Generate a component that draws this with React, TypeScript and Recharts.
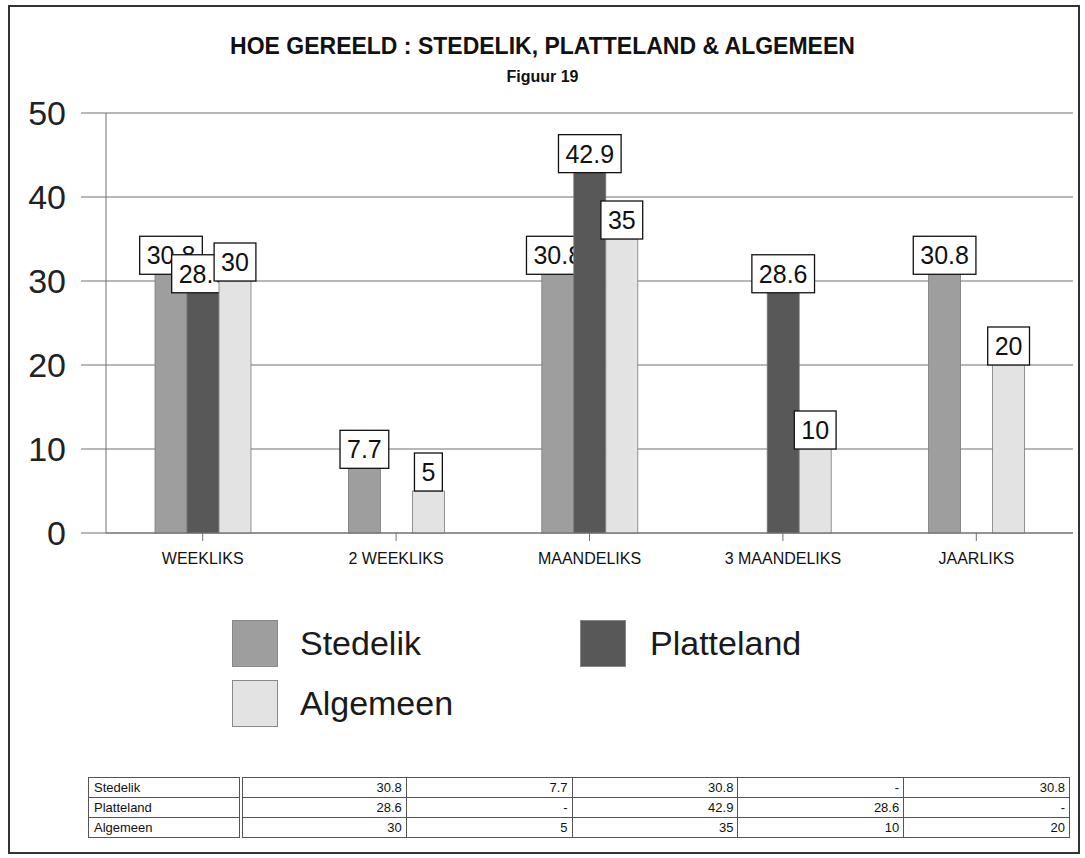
import React from "react";
import { BarChart, Bar, XAxis, YAxis, CartesianGrid, Legend } from "recharts";

const categories = ["WEEKLIKS", "2 WEEKLIKS", "MAANDELIKS", "3 MAANDELIKS", "JAARLIKS"];
const stedelik = [30.8, 7.7, 30.8, null, 30.8];
const platteland = [28.6, null, 42.9, 28.6, null];
const algemeen = [30, 5, 35, 10, 20];
const yTicks = [0, 10, 20, 30, 40, 50];

const series = [
  { key: "stedelik", name: "Stedelik", values: stedelik, fill: "#9e9e9e" },
  { key: "platteland", name: "Platteland", values: platteland, fill: "#585858" },
  { key: "algemeen", name: "Algemeen", values: algemeen, fill: "#e3e3e3" },
];

const data = categories.map((name, i) => ({
  name,
  stedelik: stedelik[i],
  platteland: platteland[i],
  algemeen: algemeen[i],
}));

const FONT = '"Liberation Sans", Arial, sans-serif';

// rough Arial widths so the label boxes fit their text
function textWidth(s: string, size: number) {
  let w = 0;
  for (const ch of s) w += ch === "." ? 0.278 : 0.556;
  return w * size;
}

function makeShape(key: string, fill: string) {
  return (props: any) => {
    const { x, y, width, height, payload } = props;
    const v = payload ? payload[key] : null;
    if (v == null) return <g />;
    const label = String(v);
    const w = textWidth(label, 25) + 14;
    const cx = x + width / 2;
    return (
      <g>
        <rect x={x} y={y} width={width} height={height} fill={fill} stroke="#7a7a7a" strokeWidth={0.8} />
        <rect x={cx - w / 2} y={y - 38} width={w} height={38} fill="#fff" stroke="#111" strokeWidth={1.3} />
        <text x={cx} y={y - 19} dy="0.36em" textAnchor="middle" fontSize={25} fill="#111" fontFamily={FONT}>
          {label}
        </text>
      </g>
    );
  };
}

// legend slots by series name: two columns, Algemeen on the second row
const legendPos: Record<string, { sx: number; sy: number; tx: number }> = {
  Stedelik: { sx: 232, sy: 5, tx: 300 },
  Platteland: { sx: 580, sy: 5, tx: 650 },
  Algemeen: { sx: 232, sy: 65, tx: 300 },
};

function LegendContent(props: any) {
  const payload = props.payload || [];
  return (
    <div style={{ position: "relative", width: 1085, height: 120 }}>
      {payload.map((p: any) => {
        const pos = legendPos[p.value];
        if (!pos) return null;
        return (
          <React.Fragment key={p.value}>
            <div
              style={{
                position: "absolute",
                left: pos.sx,
                top: pos.sy,
                width: 46,
                height: 47,
                background: p.color,
                border: "1px solid #888",
                boxSizing: "border-box",
              }}
            />
            <div
              style={{
                position: "absolute",
                left: pos.tx,
                top: pos.sy + 3,
                fontSize: 34,
                lineHeight: "40px",
                color: "#1a1a1a",
                fontFamily: FONT,
              }}
            >
              {p.value}
            </div>
          </React.Fragment>
        );
      })}
    </div>
  );
}

const cellBorder = "1px solid #555";

export default function App() {
  return (
    <div
      style={{
        position: "absolute",
        left: 0,
        top: 0,
        width: 1085,
        height: 858,
        background: "#fff",
        fontFamily: FONT,
      }}
    >
      <div
        style={{
          position: "absolute",
          left: 8,
          top: 5,
          width: 1072,
          height: 849,
          border: "2px solid #333",
          boxSizing: "border-box",
        }}
      />
      <div
        style={{
          position: "absolute",
          left: 0,
          width: 1085,
          top: 33,
          textAlign: "center",
          fontSize: 23,
          fontWeight: "bold",
          color: "#111",
        }}
      >
        HOE GEREELD : STEDELIK, PLATTELAND &amp; ALGEMEEN
      </div>
      <div
        style={{
          position: "absolute",
          left: 0,
          width: 1085,
          top: 68,
          textAlign: "center",
          fontSize: 16,
          fontWeight: "bold",
          color: "#111",
        }}
      >
        Figuur 19
      </div>

      <div style={{ position: "absolute", left: 0, top: 0 }}>
        <BarChart
          width={1085}
          height={858}
          data={data}
          margin={{ top: 113, right: 12, left: 0, bottom: 280 }}
          barGap={0}
          barSize={32}
        >
          <CartesianGrid horizontal vertical={false} stroke="#707070" strokeWidth={1} />
          <XAxis
            dataKey="name"
            height={45}
            interval={0}
            tickSize={8}
            tickMargin={12}
            axisLine={{ stroke: "#707070" }}
            tickLine={{ stroke: "#707070" }}
            tick={{ fontSize: 16, fill: "#111", fontFamily: FONT }}
          />
          <YAxis
            width={106}
            domain={[0, 50]}
            ticks={yTicks}
            interval={0}
            tickSize={25}
            tickMargin={15}
            axisLine={{ stroke: "#707070" }}
            tickLine={{ stroke: "#707070" }}
            tick={{ fontSize: 34, fill: "#222", fontFamily: FONT }}
          />
          <Legend
            layout="horizontal"
            verticalAlign="middle"
            align="center"
            content={<LegendContent />}
            wrapperStyle={{ position: "absolute", left: 0, top: 615, width: 1085, height: 120 }}
          />
          {series.map((s) => (
            <Bar
              key={s.key}
              dataKey={s.key}
              name={s.name}
              fill={s.fill}
              isAnimationActive={false}
              shape={makeShape(s.key, s.fill)}
            />
          ))}
        </BarChart>
      </div>

      <table
        style={{
          position: "absolute",
          left: 88,
          top: 777,
          width: 981,
          borderCollapse: "collapse",
          fontSize: 13,
          color: "#111",
          tableLayout: "fixed",
        }}
      >
        <colgroup>
          <col style={{ width: 152 }} />
          {categories.map((c) => (
            <col key={c} style={{ width: 165.8 }} />
          ))}
        </colgroup>
        <tbody>
          {series.map((s) => (
            <tr key={s.key} style={{ height: 20 }}>
              <td
                style={{
                  border: cellBorder,
                  borderRight: "4px double #555",
                  padding: "0 5px",
                  lineHeight: "19px",
                }}
              >
                {s.name}
              </td>
              {s.values.map((v, i) => (
                <td
                  key={i}
                  style={{ border: cellBorder, textAlign: "right", padding: "0 4px", lineHeight: "19px" }}
                >
                  {v == null ? "-" : v}
                </td>
              ))}
            </tr>
          ))}
        </tbody>
      </table>
    </div>
  );
}
